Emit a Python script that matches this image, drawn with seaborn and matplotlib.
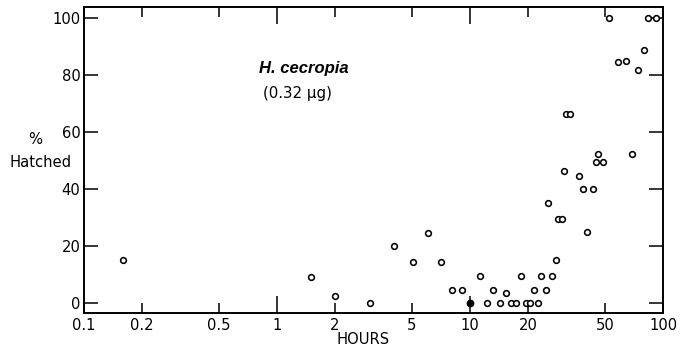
import numpy as np
import pandas as pd
import seaborn as sns
import matplotlib.pyplot as plt
from matplotlib.ticker import FixedLocator, FixedFormatter

# values (hours after treatment, % hatched)
hours = [0.16, 1.5, 2.0, 3.05, 4.05, 5.05, 6.05, 7.1, 8.1, 9.1,
         11.2, 12.3, 13.2, 14.3, 15.3, 16.3, 17.3, 18.3, 19.5, 20.4,
         21.5, 22.6, 23.4, 24.7, 25.4, 26.5, 27.8, 28.4, 29.9, 30.6,
         31.5, 32.8, 36.6, 38.7, 40.2, 43.4, 45.0, 46.0, 49.1,
         52.4, 58.3, 64.1, 69.2, 74.0, 79.5, 84.0, 92.0]
hatched = [15, 9, 2.5, 0, 20, 14.5, 24.5, 14.5, 4.5, 4.5,
           9.5, 0, 4.5, 0, 3.5, 0, 0, 9.5, 0, 0,
           4.5, 0, 9.5, 4.5, 35, 9.5, 15, 29.5, 29.5, 46.5,
           66.5, 66.5, 44.5, 40, 25, 40, 49.5, 52.5, 49.5,
           100, 84.5, 85, 52.5, 82, 89, 100, 100]
filled_hours = [10]
filled_hatched = [0]

major_x = [0.1, 1, 10, 100]
minor_x = [0.2, 0.5, 2, 5, 20, 50]
major_x_labels = ["0.1", "1", "10", "100"]
minor_x_labels = ["0.2", "0.5", "2", "5", "20", "50"]
y_ticks = [0, 20, 40, 60, 80, 100]

df = pd.DataFrame({"hours": hours, "hatched": hatched})
df_f = pd.DataFrame({"hours": filled_hours, "hatched": filled_hatched})

sns.set_style("ticks")
plt.rcParams['font.family'] = ['DejaVu Sans']
plt.rcParams['text.color'] = 'black'
plt.rcParams['xtick.color'] = 'black'
plt.rcParams['ytick.color'] = 'black'

fig = plt.figure(figsize=(6.81, 3.47), dpi=100)
ax = fig.add_axes([0.1233, 0.098, 0.8503, 0.882])

sns.scatterplot(data=df, x="hours", y="hatched", ax=ax, marker="o",
                s=17, facecolor="white", edgecolor="black", linewidth=1.15)
sns.scatterplot(data=df_f, x="hours", y="hatched", ax=ax, marker="o",
                s=20, color="black", edgecolor="black", linewidth=1.1)

ax.set_xscale("log")
ax.set_xlim(0.1, 100)
ax.set_ylim(-3.5, 104)

ax.xaxis.set_major_locator(FixedLocator(major_x))
ax.xaxis.set_major_formatter(FixedFormatter(major_x_labels))
ax.xaxis.set_minor_locator(FixedLocator(minor_x))
ax.xaxis.set_minor_formatter(FixedFormatter(minor_x_labels))
ax.set_yticks(y_ticks)

ax.tick_params(axis="x", which="both", direction="in", top=True, bottom=True,
               labelsize=10.6, pad=3.5, width=1.1, color="black",
               labelcolor="black")
ax.tick_params(axis="x", which="major", length=12)
ax.tick_params(axis="x", which="minor", length=7.5)
ax.tick_params(axis="y", which="both", direction="in", left=True, right=True,
               labelsize=10.6, pad=2.5, width=1.1, length=10, color="black",
               labelcolor="black")

for sp in ax.spines.values():
    sp.set_visible(True)
    sp.set_linewidth(1.4)
    sp.set_color("black")

ax.set_xlabel("")
ax.set_ylabel("")
fig.text(0.533, 0.023, "HOURS", fontsize=10.6, ha="center", va="center")
fig.text(0.051, 0.597, "%", fontsize=10.6, ha="center", va="center")
fig.text(0.060, 0.533, "Hatched", fontsize=10.6, ha="center", va="center")

ax.text(0.302, 0.80, "H. cecropia", transform=ax.transAxes, fontsize=12,
        fontweight="bold", fontstyle="italic", family="Liberation Sans",
        ha="left", va="center")
ax.text(0.309, 0.718, "(0.32 \u03bcg)", transform=ax.transAxes, fontsize=10.8,
        ha="left", va="center")

fig.savefig("out.png", dpi=100)
